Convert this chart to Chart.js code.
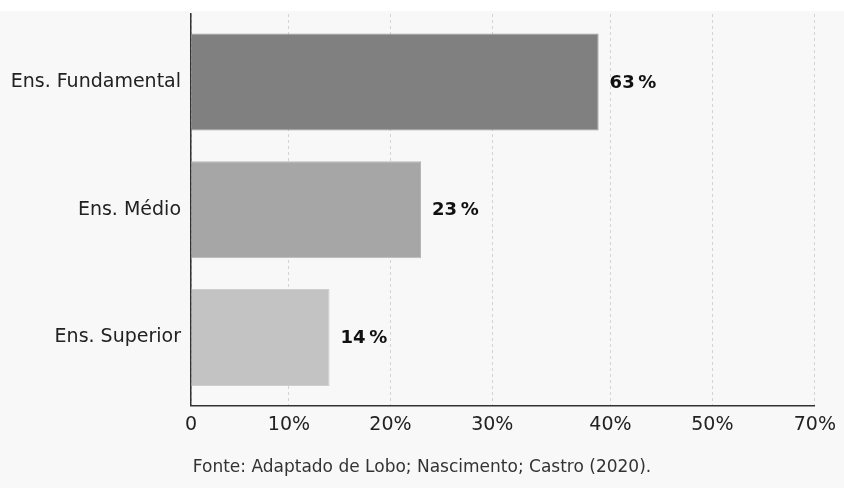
<!DOCTYPE html>
<html>
<head>
<meta charset="utf-8">
<script src="https://cdn.jsdelivr.net/npm/chart.js@4.4.1/dist/chart.umd.min.js"></script>
<style>
  html, body { margin: 0; padding: 0; background: #ffffff; }
  #wrap { width: 844px; height: 488px; position: relative; }
</style>
</head>
<body>
<div id="wrap"><canvas id="c" width="844" height="488"></canvas></div>
<script>
// ---- data ----
const categories = ["Ens. Fundamental", "Ens. Médio", "Ens. Superior"];
const barValues = [39, 23, 14];          // bar length read against the x axis (%)
const valueLabels = [63, 23, 14];        // printed labels (%)
const xTickValues = [0, 10, 20, 30, 40, 50, 70];
const xTickLabels = ["0", "10%", "20%", "30%", "40%", "50%", "70%"];
const sourceText = "Fonte: Adaptado de Lobo; Nascimento; Castro (2020).";

// ---- axis layout (fraction of axis width at each tick, as drawn) ----
const xTickFractions = [0, 0.157, 0.3197, 0.4829, 0.6723, 0.8356, 1];
const barColors = ["#808080", "#a6a6a6", "#c3c3c3"];
const barBorders = ["#9a9a9a", "#b6b6b6", "#cecece"];

// piecewise-linear scale matching the reference axis
class PiecewiseScale extends Chart.LinearScale {
  getPixelForValue(value) {
    if (value === null || value === undefined || isNaN(value)) return NaN;
    const v = xTickValues, f = xTickFractions;
    let dec;
    if (value <= v[0]) dec = f[0];
    else if (value >= v[v.length - 1]) dec = f[f.length - 1];
    else {
      for (let i = 1; i < v.length; i++) {
        if (value <= v[i]) {
          dec = f[i - 1] + (f[i] - f[i - 1]) * (value - v[i - 1]) / (v[i] - v[i - 1]);
          break;
        }
      }
    }
    return this.getPixelForDecimal(dec);
  }
  getValueForPixel(pixel) {
    const dec = this.getDecimalForPixel(pixel);
    const v = xTickValues, f = xTickFractions;
    for (let i = 1; i < f.length; i++) {
      if (dec <= f[i]) return v[i - 1] + (v[i] - v[i - 1]) * (dec - f[i - 1]) / (f[i] - f[i - 1]);
    }
    return v[v.length - 1];
  }
}
PiecewiseScale.id = 'piecewise';
PiecewiseScale.defaults = Chart.LinearScale.defaults;
Chart.register(PiecewiseScale);

const FONT = "'DejaVu Sans', sans-serif";

const bgPlugin = {
  id: 'bg',
  beforeDraw(chart) {
    const ctx = chart.ctx;
    ctx.save();
    ctx.fillStyle = '#ffffff';
    ctx.fillRect(0, 0, chart.width, chart.height);
    ctx.fillStyle = '#f8f8f8';
    ctx.fillRect(0, 11, chart.width, chart.height - 11);
    ctx.restore();
  }
};

const labelPlugin = {
  id: 'valLabels',
  afterDatasetsDraw(chart) {
    const ctx = chart.ctx;
    const meta = chart.getDatasetMeta(0);
    ctx.save();
    ctx.font = "bold 18px " + FONT;
    ctx.fillStyle = '#111111';
    ctx.textAlign = 'left';
    ctx.textBaseline = 'middle';
    meta.data.forEach((el, i) => {
      ctx.fillText(valueLabels[i] + "\u2009%", el.x + 11, el.y + 1);
    });
    ctx.restore();
  },
  afterDraw(chart) {
    const ctx = chart.ctx;
    ctx.save();
    ctx.font = "17px " + FONT;
    ctx.fillStyle = '#333333';
    ctx.textAlign = 'center';
    ctx.textBaseline = 'middle';
    ctx.fillText(sourceText, 422, 468);
    ctx.restore();
  }
};

new Chart(document.getElementById('c'), {
  type: 'bar',
  data: {
    datasets: [{
      data: categories.map((c, i) => ({ x: barValues[i], y: i })),
      backgroundColor: barColors,
      borderColor: barBorders,
      borderWidth: 1,
      borderSkipped: 'left',
      categoryPercentage: 1,
      barPercentage: 0.758
    }]
  },
  options: {
    indexAxis: 'y',
    responsive: false,
    animation: false,
    devicePixelRatio: 1,
    layout: { padding: { left: 0, right: 29, top: 14, bottom: 0 } },
    plugins: { legend: { display: false }, tooltip: { enabled: false } },
    scales: {
      x: {
        type: 'piecewise',
        min: 0,
        max: 70,
        offset: false,
        afterBuildTicks: s => { s.ticks = xTickValues.map(v => ({ value: v })); },
        afterFit: s => { s.height = 82.5; },
        ticks: {
          autoSkip: false,
          maxRotation: 0,
          padding: 8,
          color: '#222222',
          font: { family: FONT, size: 19 },
          callback: (value) => xTickLabels[xTickValues.indexOf(value)]
        },
        grid: {
          color: '#d4d4d4',
          lineWidth: 1,
          drawTicks: false
        },
        border: { display: true, color: '#333333', width: 1.5, dash: [3, 3] }
      },
      y: {
        type: 'linear',
        reverse: true,
        offset: false,
        min: -0.532,
        max: 2.532,
        afterBuildTicks: s => { s.ticks = categories.map((c, i) => ({ value: i })); },
        afterFit: s => { s.width = 191; s.paddingTop = 0; s.paddingBottom = 0; },
        ticks: {
          autoSkip: false,
          padding: 10,
          color: '#222222',
          font: { family: FONT, size: 19 },
          callback: (value) => categories[value]
        },
        grid: { display: false, drawTicks: false, offset: false },
        border: { display: true, color: '#333333', width: 1.5 }
      }
    }
  },
  plugins: [bgPlugin, labelPlugin]
});
</script>
</body>
</html>
